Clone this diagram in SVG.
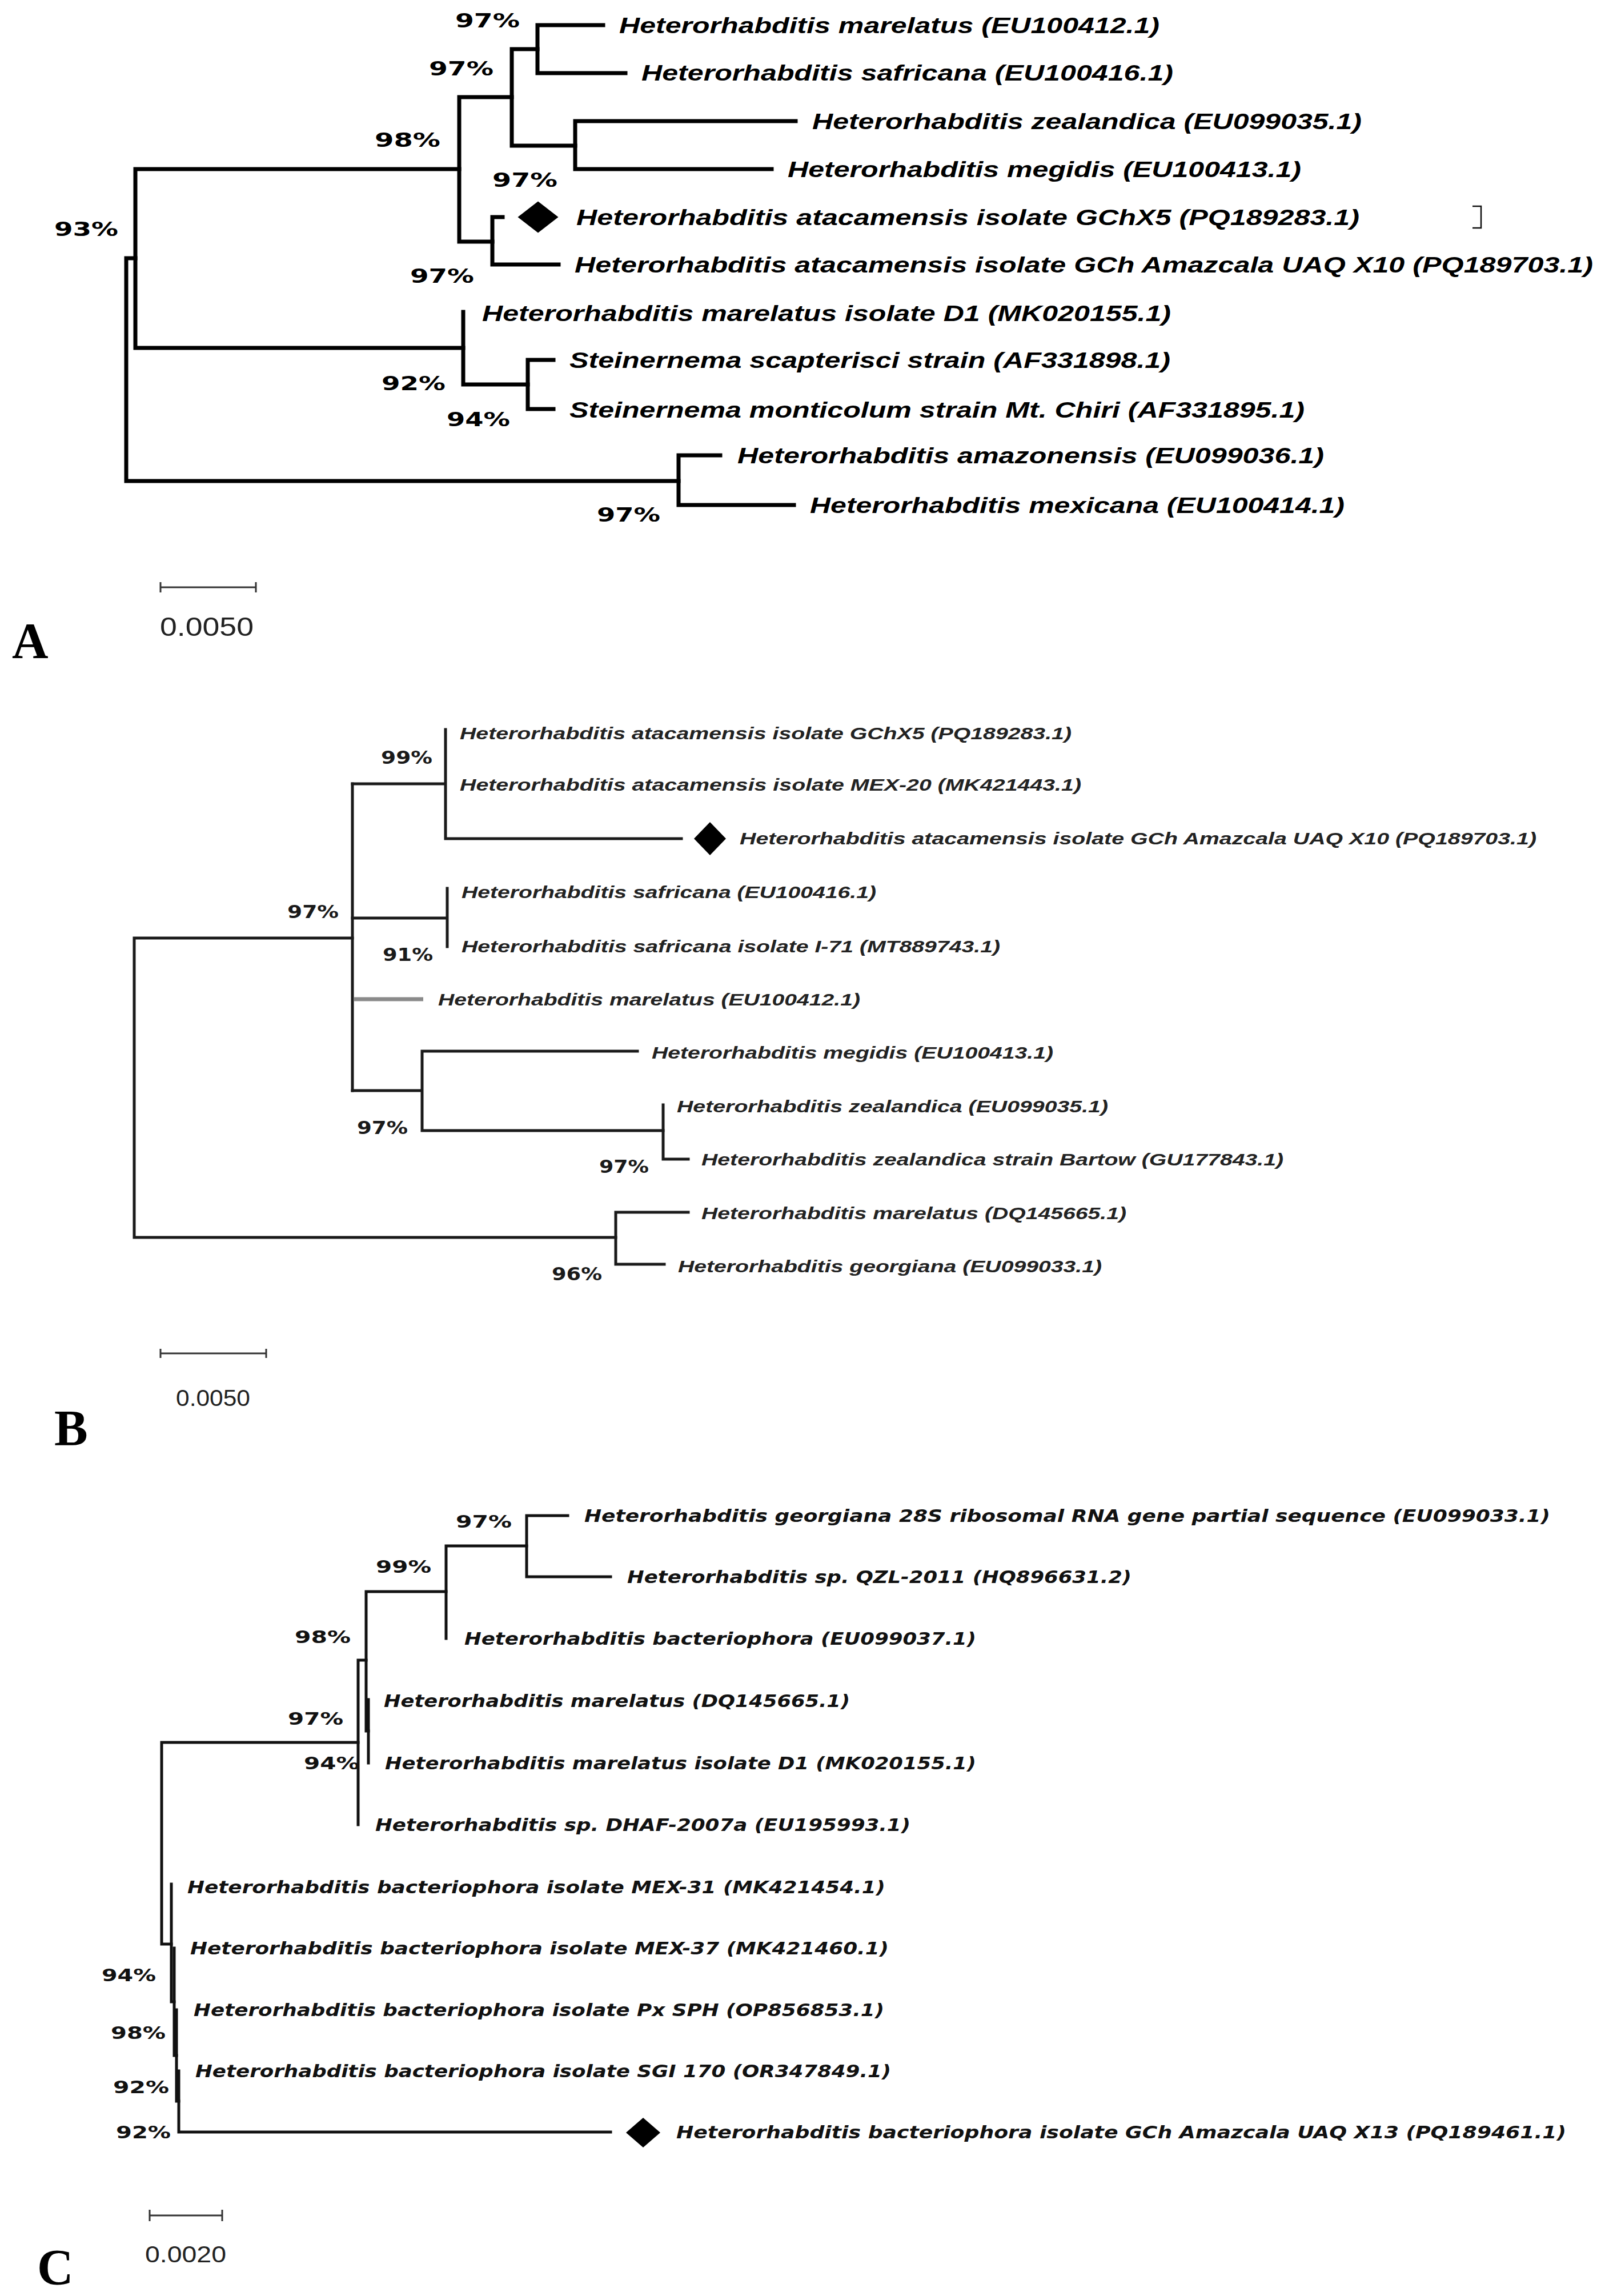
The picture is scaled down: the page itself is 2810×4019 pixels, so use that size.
<svg xmlns="http://www.w3.org/2000/svg" width="2810" height="4019" viewBox="0 0 2810 4019">
<style>
.bg{fill:#fff}
.la{font-family:"Liberation Sans",Arial,sans-serif;font-weight:bold;font-style:italic;font-size:38px;fill:#000}
.pa{font-family:"DejaVu Sans",Verdana,sans-serif;font-weight:bold;font-size:34px;fill:#000}
.lb{font-family:"Liberation Sans",Arial,sans-serif;font-weight:bold;font-style:italic;font-size:29px;fill:#222}
.pb{font-family:"DejaVu Sans",Verdana,sans-serif;font-weight:bold;font-size:32px;fill:#1a1a1a}
.lc{font-family:"DejaVu Sans",Verdana,sans-serif;font-weight:bold;font-style:italic;font-size:30px;fill:#111}
.pc{font-family:"DejaVu Sans",Verdana,sans-serif;font-weight:bold;font-size:30px;fill:#111}
.panel{font-family:"Liberation Serif","Times New Roman",serif;font-weight:bold;font-size:88px;fill:#000}
.sc{font-family:"Liberation Sans",Arial,sans-serif;fill:#222}
.ea{fill:none;stroke:#000;stroke-width:7;stroke-linecap:square;stroke-linejoin:miter}
.eb{fill:none;stroke:#1a1a1a;stroke-width:5;stroke-linecap:square;stroke-linejoin:miter}
.ec{fill:none;stroke:#111;stroke-width:5;stroke-linecap:square;stroke-linejoin:miter}
.gray{fill:none;stroke:#8a8a8a;stroke-width:7}
.bar{fill:none;stroke:#333;stroke-width:3}
.dia{fill:#000}
</style>
<rect class="bg" x="0" y="0" width="2810" height="4019"/>

<!-- ================= PANEL A ================= -->
<g id="connectors-A">
  <path class="ea" d="M221 452 V842 M221 452 H237 M221 842 H1188"/>
  <path class="ea" d="M237 296 V609 M237 296 H804 M237 609 H811"/>
  <path class="ea" d="M804 170 V423 M804 170 H896 M804 423 H862"/>
  <path class="ea" d="M896 86 V255 M896 86 H941 M896 255 H1007"/>
  <path class="ea" d="M941 44 V128 M941 44 H1056 M941 128 H1095"/>
  <path class="ea" d="M1007 212 V296 M1007 212 H1393 M1007 296 H1351"/>
  <path class="ea" d="M862 380 V463 M862 380 H880 M862 463 H978"/>
  <path class="ea" d="M811 546 V673 M811 673 H924"/>
  <path class="ea" d="M924 630 V716 M924 630 H969 M924 716 H969"/>
  <path class="ea" d="M1188 797 V884 M1188 797 H1261 M1188 884 H1390"/>
</g>
<g id="nodes-A">
  <g id="a-n1"><text class="la" x="1084" y="58" textLength="946" lengthAdjust="spacingAndGlyphs">Heterorhabditis marelatus (EU100412.1)</text></g>
  <g id="a-n2"><text class="la" x="1123" y="141" textLength="931" lengthAdjust="spacingAndGlyphs">Heterorhabditis safricana (EU100416.1)</text></g>
  <g id="a-n3"><text class="la" x="1422" y="226" textLength="962" lengthAdjust="spacingAndGlyphs">Heterorhabditis zealandica (EU099035.1)</text></g>
  <g id="a-n4"><text class="la" x="1379" y="310" textLength="899" lengthAdjust="spacingAndGlyphs">Heterorhabditis megidis (EU100413.1)</text></g>
  <g id="a-n5"><polygon class="dia" points="942,352.5 977.5,380 942,407.5 906.5,380"/><text class="la" x="1009" y="394" textLength="1371" lengthAdjust="spacingAndGlyphs">Heterorhabditis atacamensis isolate GChX5 (PQ189283.1)</text></g>
  <g id="a-n6"><text class="la" x="1006" y="477" textLength="1783" lengthAdjust="spacingAndGlyphs">Heterorhabditis atacamensis isolate GCh Amazcala UAQ X10 (PQ189703.1)</text></g>
  <g id="a-n7"><text class="la" x="844" y="562" textLength="1206" lengthAdjust="spacingAndGlyphs">Heterorhabditis marelatus isolate D1 (MK020155.1)</text></g>
  <g id="a-n8"><text class="la" x="997" y="644" textLength="1052" lengthAdjust="spacingAndGlyphs">Steinernema scapterisci strain (AF331898.1)</text></g>
  <g id="a-n9"><text class="la" x="997" y="731" textLength="1287" lengthAdjust="spacingAndGlyphs">Steinernema monticolum strain Mt. Chiri (AF331895.1)</text></g>
  <g id="a-n10"><text class="la" x="1291" y="811" textLength="1027" lengthAdjust="spacingAndGlyphs">Heterorhabditis amazonensis (EU099036.1)</text></g>
  <g id="a-n11"><text class="la" x="1418" y="898" textLength="936" lengthAdjust="spacingAndGlyphs">Heterorhabditis mexicana (EU100414.1)</text></g>
  <path id="a-bracket" d="M2578 361 H2593 V399 H2578" fill="none" stroke="#111" stroke-width="2.5"/>
</g>
<g id="support-A">
  <text class="pa" x="797" y="48" textLength="113" lengthAdjust="spacingAndGlyphs">97%</text>
  <text class="pa" x="751" y="132" textLength="113" lengthAdjust="spacingAndGlyphs">97%</text>
  <text class="pa" x="656" y="257" textLength="115" lengthAdjust="spacingAndGlyphs">98%</text>
  <text class="pa" x="862" y="327" textLength="114" lengthAdjust="spacingAndGlyphs">97%</text>
  <text class="pa" x="95" y="413" textLength="112" lengthAdjust="spacingAndGlyphs">93%</text>
  <text class="pa" x="718" y="495" textLength="112" lengthAdjust="spacingAndGlyphs">97%</text>
  <text class="pa" x="668" y="683" textLength="112" lengthAdjust="spacingAndGlyphs">92%</text>
  <text class="pa" x="782" y="746" textLength="111" lengthAdjust="spacingAndGlyphs">94%</text>
  <text class="pa" x="1045" y="913" textLength="111" lengthAdjust="spacingAndGlyphs">97%</text>
</g>
<g id="scale-A">
  <path class="bar" d="M280 1028 H449 M281 1019 V1037 M448 1019 V1037" stroke-width="2.5"/>
  <text class="sc" x="280" y="1113" font-size="46" textLength="164" lengthAdjust="spacingAndGlyphs">0.0050</text>
</g>
<text class="panel" x="21" y="1151">A</text>

<!-- ================= PANEL B ================= -->
<g id="connectors-B">
  <path class="eb" d="M235 1642 V2166 M235 1642 H617 M235 2166 H1078"/>
  <path class="eb" d="M1078 2122 V2213 M1078 2122 H1205 M1078 2213 H1163"/>
  <path class="eb" d="M617 1372 V1909"/>
  <path class="eb" d="M617 1372 H780 M780 1277 V1468 M780 1468 H1193"/>
  <path class="eb" d="M617 1607 H783 M783 1555 V1657"/>
  <path class="gray" d="M620 1749 H741"/>
  <path class="eb" d="M617 1909 H739 M739 1840 V1979 M739 1840 H1116 M739 1979 H1161"/>
  <path class="eb" d="M1161 1934 V2029 M1161 2029 H1205"/>
</g>
<g id="nodes-B">
  <g id="b-n1"><text class="lb" x="805" y="1294" textLength="1071" lengthAdjust="spacingAndGlyphs">Heterorhabditis atacamensis isolate GChX5 (PQ189283.1)</text></g>
  <g id="b-n2"><text class="lb" x="805" y="1384" textLength="1088" lengthAdjust="spacingAndGlyphs">Heterorhabditis atacamensis isolate MEX-20 (MK421443.1)</text></g>
  <g id="b-n3"><polygon class="dia" points="1243,1439 1271,1468 1243,1497 1215,1468"/><text class="lb" x="1295" y="1478" textLength="1395" lengthAdjust="spacingAndGlyphs">Heterorhabditis atacamensis isolate GCh Amazcala UAQ X10 (PQ189703.1)</text></g>
  <g id="b-n4"><text class="lb" x="808" y="1572" textLength="726" lengthAdjust="spacingAndGlyphs">Heterorhabditis safricana (EU100416.1)</text></g>
  <g id="b-n5"><text class="lb" x="808" y="1667" textLength="943" lengthAdjust="spacingAndGlyphs">Heterorhabditis safricana isolate I-71 (MT889743.1)</text></g>
  <g id="b-n6"><text class="lb" x="767" y="1760" textLength="739" lengthAdjust="spacingAndGlyphs">Heterorhabditis marelatus (EU100412.1)</text></g>
  <g id="b-n7"><text class="lb" x="1141" y="1853" textLength="703" lengthAdjust="spacingAndGlyphs">Heterorhabditis megidis (EU100413.1)</text></g>
  <g id="b-n8"><text class="lb" x="1185" y="1947" textLength="755" lengthAdjust="spacingAndGlyphs">Heterorhabditis zealandica (EU099035.1)</text></g>
  <g id="b-n9"><text class="lb" x="1228" y="2040" textLength="1019" lengthAdjust="spacingAndGlyphs">Heterorhabditis zealandica strain Bartow (GU177843.1)</text></g>
  <g id="b-n10"><text class="lb" x="1228" y="2134" textLength="744" lengthAdjust="spacingAndGlyphs">Heterorhabditis marelatus (DQ145665.1)</text></g>
  <g id="b-n11"><text class="lb" x="1187" y="2227" textLength="742" lengthAdjust="spacingAndGlyphs">Heterorhabditis georgiana (EU099033.1)</text></g>
</g>
<g id="support-B">
  <text class="pb" x="667" y="1337" textLength="90" lengthAdjust="spacingAndGlyphs">99%</text>
  <text class="pb" x="503" y="1607" textLength="90" lengthAdjust="spacingAndGlyphs">97%</text>
  <text class="pb" x="670" y="1682" textLength="88" lengthAdjust="spacingAndGlyphs">91%</text>
  <text class="pb" x="625" y="1985" textLength="89" lengthAdjust="spacingAndGlyphs">97%</text>
  <text class="pb" x="1049" y="2053" textLength="87" lengthAdjust="spacingAndGlyphs">97%</text>
  <text class="pb" x="966" y="2241" textLength="88" lengthAdjust="spacingAndGlyphs">96%</text>
</g>
<g id="scale-B">
  <path class="bar" d="M280 2369 H467 M281 2361 V2377 M466 2361 V2377" stroke="#555"/>
  <text class="sc" x="308" y="2461" font-size="40" fill="#333" textLength="130" lengthAdjust="spacingAndGlyphs">0.0050</text>
</g>
<text class="panel" x="95" y="2529">B</text>

<!-- ================= PANEL C ================= -->
<g id="connectors-C">
  <path class="ec" d="M283 3050 H627 M283 3050 V3403 M283 3403 H300"/>
  <path class="ec" d="M300 3298 V3504 M300 3504 H305"/>
  <path class="ec" d="M305 3410 V3598 M305 3598 H309"/>
  <path class="ec" d="M309 3518 V3678 M309 3678 H313"/>
  <path class="ec" d="M313 3625 V3732 M313 3732 H1069"/>
  <path class="ec" d="M627 2906 V3194 M627 2906 H641"/>
  <path class="ec" d="M641 2786 V3030 M641 2786 H781 M641 3030 H645"/>
  <path class="ec" d="M645 2975 V3086"/>
  <path class="ec" d="M781 2706 V2868 M781 2706 H922"/>
  <path class="ec" d="M922 2653 V2760 M922 2653 H994 M922 2760 H1069"/>
</g>
<g id="nodes-C">
  <g id="c-n1"><text class="lc" x="1023" y="2664" textLength="1691" lengthAdjust="spacingAndGlyphs">Heterorhabditis georgiana 28S ribosomal RNA gene partial sequence (EU099033.1)</text></g>
  <g id="c-n2"><text class="lc" x="1098" y="2771" textLength="883" lengthAdjust="spacingAndGlyphs">Heterorhabditis sp. QZL-2011 (HQ896631.2)</text></g>
  <g id="c-n3"><text class="lc" x="813" y="2879" textLength="896" lengthAdjust="spacingAndGlyphs">Heterorhabditis bacteriophora (EU099037.1)</text></g>
  <g id="c-n4"><text class="lc" x="672" y="2988" textLength="816" lengthAdjust="spacingAndGlyphs">Heterorhabditis marelatus (DQ145665.1)</text></g>
  <g id="c-n5"><text class="lc" x="674" y="3097" textLength="1035" lengthAdjust="spacingAndGlyphs">Heterorhabditis marelatus isolate D1 (MK020155.1)</text></g>
  <g id="c-n6"><text class="lc" x="657" y="3205" textLength="937" lengthAdjust="spacingAndGlyphs">Heterorhabditis sp. DHAF-2007a (EU195993.1)</text></g>
  <g id="c-n7"><text class="lc" x="328" y="3314" textLength="1222" lengthAdjust="spacingAndGlyphs">Heterorhabditis bacteriophora isolate MEX-31 (MK421454.1)</text></g>
  <g id="c-n8"><text class="lc" x="333" y="3421" textLength="1223" lengthAdjust="spacingAndGlyphs">Heterorhabditis bacteriophora isolate MEX-37 (MK421460.1)</text></g>
  <g id="c-n9"><text class="lc" x="339" y="3529" textLength="1209" lengthAdjust="spacingAndGlyphs">Heterorhabditis bacteriophora isolate Px SPH (OP856853.1)</text></g>
  <g id="c-n10"><text class="lc" x="342" y="3636" textLength="1218" lengthAdjust="spacingAndGlyphs">Heterorhabditis bacteriophora isolate SGI 170 (OR347849.1)</text></g>
  <g id="c-n11"><polygon class="dia" points="1126,3707 1156,3733 1126,3759 1096,3733"/><text class="lc" x="1184" y="3743" textLength="1558" lengthAdjust="spacingAndGlyphs">Heterorhabditis bacteriophora isolate GCh Amazcala UAQ X13 (PQ189461.1)</text></g>
</g>
<g id="support-C">
  <text class="pc" x="798" y="2674" textLength="98" lengthAdjust="spacingAndGlyphs">97%</text>
  <text class="pc" x="658" y="2753" textLength="97" lengthAdjust="spacingAndGlyphs">99%</text>
  <text class="pc" x="516" y="2876" textLength="98" lengthAdjust="spacingAndGlyphs">98%</text>
  <text class="pc" x="504" y="3019" textLength="97" lengthAdjust="spacingAndGlyphs">97%</text>
  <text class="pc" x="532" y="3097" textLength="97" lengthAdjust="spacingAndGlyphs">94%</text>
  <text class="pc" x="178" y="3468" textLength="95" lengthAdjust="spacingAndGlyphs">94%</text>
  <text class="pc" x="194" y="3569" textLength="96" lengthAdjust="spacingAndGlyphs">98%</text>
  <text class="pc" x="198" y="3664" textLength="98" lengthAdjust="spacingAndGlyphs">92%</text>
  <text class="pc" x="203" y="3743" textLength="96" lengthAdjust="spacingAndGlyphs">92%</text>
</g>
<g id="scale-C">
  <path class="bar" d="M261 3878 H390 M262 3868 V3888 M389 3868 V3888" stroke="#444"/>
  <text class="sc" x="254" y="3960" font-size="40" textLength="142" lengthAdjust="spacingAndGlyphs">0.0020</text>
</g>
<text class="panel" x="65" y="3998" font-size="84">C</text>
</svg>
